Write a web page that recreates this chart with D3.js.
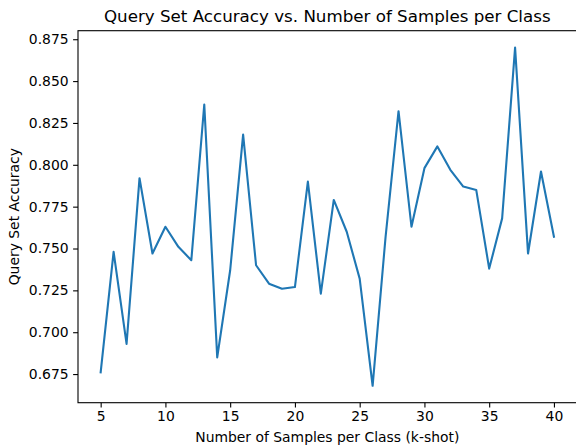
<!DOCTYPE html>
<html>
<head>
<meta charset="utf-8">
<script src="https://cdn.jsdelivr.net/npm/d3@7"></script>
<style>
  body { margin: 0; background: #fff; }
  svg { display: block; font-family: "DejaVu Sans", sans-serif; }
</style>
</head>
<body>
<div id="viz"></div>
<script>
// k-shot values and the accuracy
var shots = [5, 6, 7, 8, 9, 10, 11, 12, 13, 14, 15, 16, 17, 18, 19, 20, 21, 22,
  23, 24, 25, 26, 27, 28, 29, 30, 31, 32, 33, 34, 35, 36, 37, 38, 39, 40];
var accuracy = [0.676, 0.748, 0.693, 0.792, 0.747, 0.763, 0.751, 0.743, 0.836,
  0.685, 0.737, 0.818, 0.740, 0.729, 0.726, 0.727, 0.790, 0.723,
  0.779, 0.760, 0.732, 0.668, 0.757, 0.832, 0.763, 0.798, 0.811, 0.797,
  0.787, 0.785, 0.738, 0.768, 0.870, 0.747, 0.796, 0.757];
var xTicks = [5, 10, 15, 20, 25, 30, 35, 40];
var yTicks = [0.675, 0.700, 0.725, 0.750, 0.775, 0.800, 0.825, 0.850, 0.875];

var titleText = 'Query Set Accuracy vs. Number of Samples per Class';
var xLabelText = 'Number of Samples per Class (k-shot)';
var yLabelText = 'Query Set Accuracy';

var W = 576, H = 448;
// note: "top" is window.top, so the plot box gets its own names
var plotL = 78, plotR = 576.6, plotT = 30.7, plotB = 402.7;

var svg = d3.select('#viz').append('svg').attr('width', W).attr('height', H);

// matplotlib style 5% margins
var xExt = d3.extent(shots), yExt = d3.extent(accuracy);
var xPad = (xExt[1] - xExt[0]) * 0.05, yPad = (yExt[1] - yExt[0]) * 0.05;

var x = d3.scaleLinear().domain([xExt[0] - xPad, xExt[1] + xPad]).range([plotL, plotR]);
var y = d3.scaleLinear().domain([yExt[0] - yPad, yExt[1] + yPad]).range([plotB, plotT]);

var xAxis = d3.axisBottom(x).tickValues(xTicks).tickSize(4.9).tickPadding(4)
  .tickFormat(d3.format('d'));
var yAxis = d3.axisLeft(y).tickValues(yTicks).tickSize(4.9).tickPadding(4.5)
  .tickFormat(d3.format('.3f'));

function styleAxis(g) {
  g.select('.domain').remove();
  g.selectAll('.tick line').attr('stroke', '#000').attr('stroke-width', 1.1);
  g.selectAll('.tick text').attr('fill', '#000').style('font-size', '13.9px')
    .style('font-family', '"DejaVu Sans", sans-serif');
}

svg.append('g').attr('transform', 'translate(0,' + plotB + ')').call(xAxis).call(styleAxis);
svg.append('g').attr('transform', 'translate(' + plotL + ',0)').call(yAxis).call(styleAxis);

var line = d3.line()
  .x(function(d, i) { return x(shots[i]); })
  .y(function(d) { return y(d); });

svg.append('path')
  .datum(accuracy)
  .attr('fill', 'none')
  .attr('stroke', '#1f77b4')
  .attr('stroke-width', 2.1)
  .attr('stroke-linejoin', 'round')
  .attr('stroke-linecap', 'square')
  .attr('d', line);

// spines
svg.append('rect')
  .attr('x', plotL).attr('y', plotT)
  .attr('width', plotR - plotL).attr('height', plotB - plotT)
  .attr('fill', 'none').attr('stroke', '#000').attr('stroke-width', 1.1);

svg.append('text')
  .attr('x', (plotL + plotR) / 2).attr('y', 22)
  .attr('text-anchor', 'middle')
  .style('font-size', '16.7px')
  .text(titleText);

svg.append('text')
  .attr('x', (plotL + plotR) / 2).attr('y', 442)
  .attr('text-anchor', 'middle')
  .style('font-size', '13.9px')
  .text(xLabelText);

svg.append('text')
  .attr('transform', 'translate(19,' + (plotT + plotB) / 2 + ') rotate(-90)')
  .attr('text-anchor', 'middle')
  .style('font-size', '13.9px')
  .text(yLabelText);
</script>
</body>
</html>
